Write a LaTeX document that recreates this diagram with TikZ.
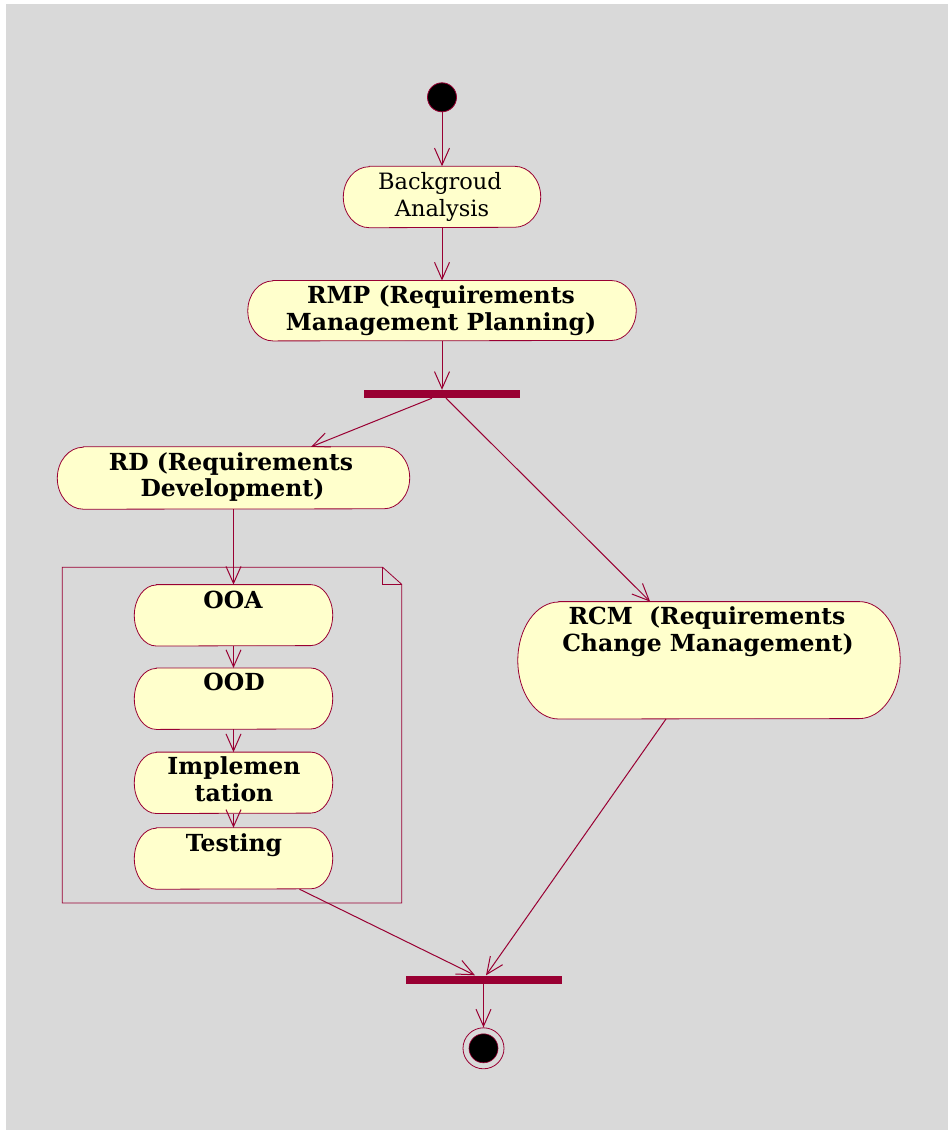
\documentclass[tikz,border=0pt]{standalone}
\usepackage{fontspec}
\setmainfont{DejaVu Serif}
\usetikzlibrary{arrows.meta}
\definecolor{bgc}{RGB}{217,217,217}
\definecolor{mar}{RGB}{153,0,51}
\definecolor{boxfill}{RGB}{255,255,204}
\newcommand{\actoutline}[3]{%
 \draw[boxline] ([xshift=#2]#1.north west) -- ([xshift=-#2]#1.north east)
   arc[start angle=90,end angle=-90,x radius=#2,y radius=#3]
   -- ([xshift=#2]#1.south west)
   arc[start angle=270,end angle=90,x radius=#2,y radius=#3] -- cycle;}
\tikzset{
 boxline/.style={draw=mar, line width=0.8pt, fill=boxfill},
 act/.style={rectangle, draw=none, inner sep=0pt},
 syncbar/.style={rectangle, fill=mar, draw=none, minimum width=156pt, minimum height=8pt, inner sep=0pt},
 flow/.style={draw=mar, line width=1pt, -{Straight Barb[length=17pt,width=15pt]}},
 lbl/.style={anchor=base, inner sep=0pt, font=\fontsize{22.5}{27}\selectfont},
 blbl/.style={anchor=base, inner sep=0pt, font=\fontsize{23.5}{27}\selectfont\bfseries},
}
\begin{document}
\begin{tikzpicture}[x=1pt,y=-1pt]
\useasboundingbox (0,0) rectangle (948,1130);
\fill[bgc] (6,4) rectangle (948,1130);

% note frame
\draw[mar, line width=0.8pt] (62.3,567.3) -- (382.7,567.3) -- (401.7,584.3) -- (401.7,903) -- (62.3,903) -- cycle;
\draw[mar, line width=0.8pt] (382.7,567.3) -- (382.7,584.3) -- (401.7,584.3);

% start / end
\node[circle, fill=black, draw=mar, line width=0.8pt, minimum size=29pt, inner sep=0pt] (start) at (442,97.3) {};
\node[circle, draw=mar, line width=0.8pt, minimum size=41pt, inner sep=0pt] (end) at (483.5,1048.3) {};
\node[circle, fill=black, draw=mar, line width=0.6pt, minimum size=29pt, inner sep=0pt] (endin) at (483.5,1048.3) {};

% activity boxes
\node[act, minimum width=197pt, minimum height=61pt] (bg) at (442,197) {};
\node[act, minimum width=388pt, minimum height=60pt] (rmp) at (442,310.7) {};
\node[act, minimum width=352pt, minimum height=62pt] (rd) at (233.5,478) {};
\node[act, minimum width=198pt, minimum height=61pt] (ooa) at (233.5,615.3) {};
\node[act, minimum width=198pt, minimum height=61pt] (ood) at (233.5,698.7) {};
\node[act, minimum width=198pt, minimum height=61pt] (impl) at (233.5,782.8) {};
\node[act, minimum width=198pt, minimum height=61pt] (test) at (233.5,858.5) {};
\node[act, minimum width=382pt, minimum height=117pt] (rcm) at (709,660.3) {};
\actoutline{bg}{26pt}{30.5pt}
\actoutline{rmp}{25pt}{30pt}
\actoutline{rd}{26pt}{31pt}
\actoutline{ooa}{22pt}{30.5pt}
\actoutline{ood}{22pt}{30.5pt}
\actoutline{impl}{22pt}{30.5pt}
\actoutline{test}{22pt}{30.5pt}
\actoutline{rcm}{41pt}{58.5pt}

% sync bars
\node[syncbar] (fork) at (442,394) {};
\node[syncbar] (join) at (483.5,979.5) {};

% texts
\node[lbl] (bgt1) at (440,189) {Backgroud};
\node[lbl] (bgt2) at (442,216) {Analysis};
\node[blbl] (rmpt1) at (441,303) {RMP (Requirements};
\node[blbl] (rmpt2) at (441,330) {Management Planning)};
\node[blbl] (rdt1) at (231,470.7) {RD (Requirements};
\node[blbl] (rdt2) at (232.5,496.7) {Development)};
\node[blbl] (ooat) at (233,608) {OOA};
\node[blbl] (oodt) at (234,690) {OOD};
\node[blbl] (implt1) at (234,774.3) {Implemen};
\node[blbl] (implt2) at (234,801) {tation};
\node[blbl] (testt) at (234,851) {Testing};
\node[blbl] (rcmt1) at (707,624.3) {RCM\ \ (Requirements};
\node[blbl] (rcmt2) at (708,651) {Change Management)};

% connectors
\draw[flow] (start) -- (bg);
\draw[flow] (bg) -- (rmp);
\draw[flow] (rmp) -- (fork);
\draw[flow] ([xshift=-10pt]fork.south) -- (rd);
\draw[flow] ([xshift=4pt]fork.south) -- (rcm);
\draw[flow] (rd) -- (ooa);
\draw[flow] (ooa) -- (ood);
\draw[flow] (ood) -- (impl);
\draw[flow] (impl) -- (test);
\draw[flow] ([xshift=-43pt]rcm.south) -- ([xshift=2.5pt]join.north);
\draw[flow] ([xshift=66pt]test.south) -- ([xshift=-8.5pt]join.north);
\draw[flow] (join) -- (end);
\end{tikzpicture}
\end{document}
